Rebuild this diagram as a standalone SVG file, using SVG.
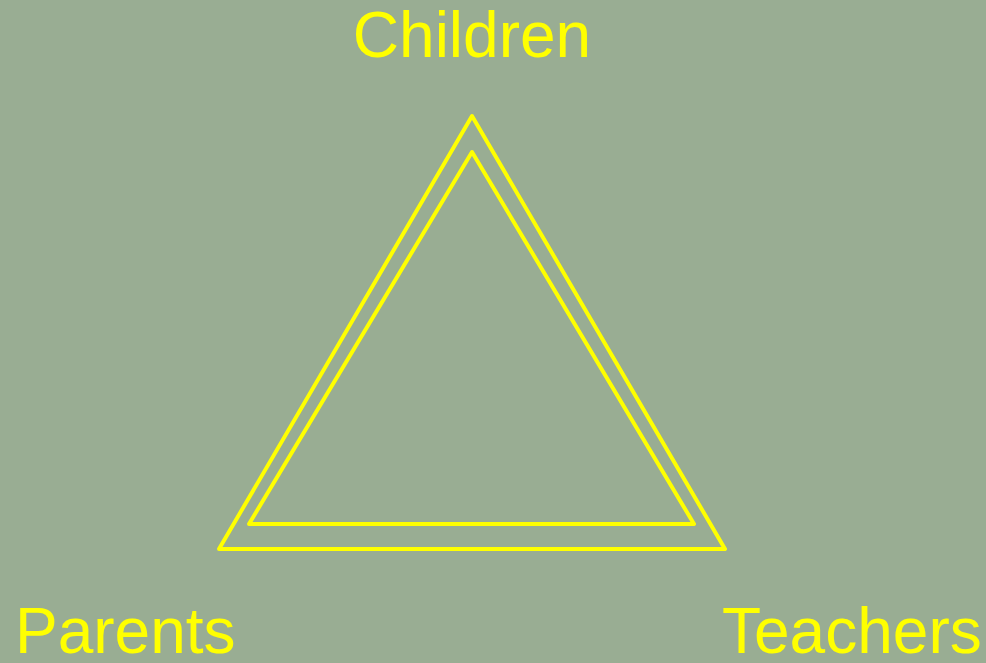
<svg xmlns="http://www.w3.org/2000/svg" width="986" height="663" viewBox="0 0 986 663">
<style>
.lbl{font-family:"Liberation Sans",Arial,sans-serif;font-size:64px;fill:#ffff00}
.tri{fill:none;stroke:#ffff00;stroke-width:4;stroke-linejoin:round}
</style>
<rect width="986" height="663" fill="#99ad93"/>
<g id="connectors">
<polygon class="tri" points="472,116 725,549 219,549"/>
<polygon class="tri" points="472,152 694,524 249,524"/>
</g>
<g id="children"><text class="lbl" x="472" y="57" text-anchor="middle">Children</text></g>
<g id="parents"><text class="lbl" x="15" y="653">Parents</text></g>
<g id="teachers"><text class="lbl" x="722" y="653">Teachers</text></g>
</svg>
